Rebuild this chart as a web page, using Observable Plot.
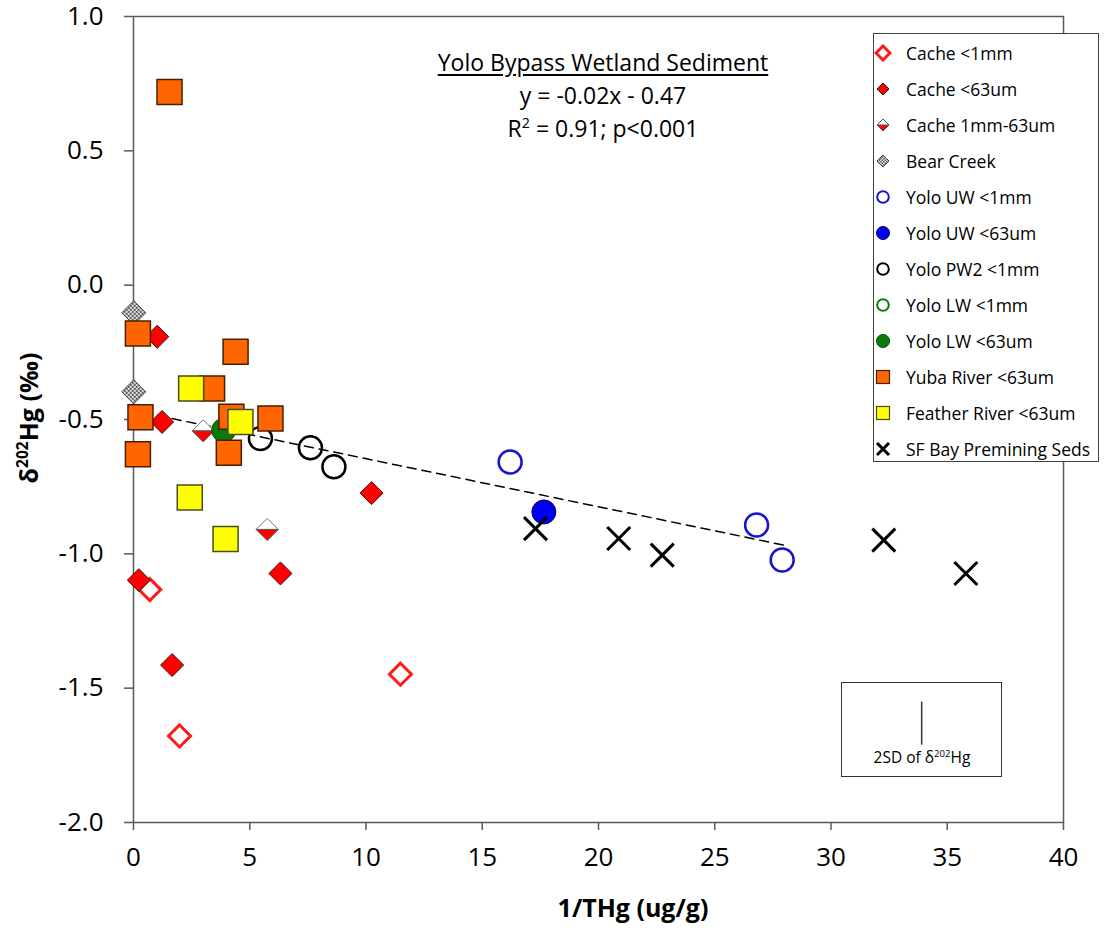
<!DOCTYPE html>
<html><head><meta charset="utf-8">
<script src="https://cdn.jsdelivr.net/npm/d3@7"></script>
<script src="https://cdn.jsdelivr.net/npm/@observablehq/plot@0.6"></script>
<style>
body{margin:0;background:#fff;font-family:"Open Sans",sans-serif;color:#000;}
#wrap{position:relative;width:1107px;height:934px;overflow:hidden;}
#wrap svg.main{position:absolute;left:0;top:0;}
.ov{position:absolute;white-space:nowrap;}
#title{left:403px;top:46px;width:400px;text-align:center;font-size:23px;line-height:33px;}
#title .t1{text-decoration:underline;text-underline-offset:3px;}
#xt{left:383px;top:889px;width:500px;text-align:center;font-size:25px;font-weight:bold;line-height:36px;}
#yt{left:28px;top:418px;transform:translate(-50%,-50%) rotate(-90deg);font-size:25px;font-weight:bold;}
sup{font-size:62%;line-height:0;vertical-align:0.65em;}
#sdbox{left:841px;top:682px;width:159px;height:93px;border:1.5px solid #333;}
#sdlab{left:841px;top:745px;width:162px;text-align:center;font-size:15.5px;line-height:24px;}
#legend{left:873px;top:33px;width:226px;height:429px;border:1.5px solid #404040;background:#fff;padding-top:1px;box-sizing:border-box;}
.row{display:flex;align-items:center;height:36px;font-size:17.5px;}
.row svg{width:18px;height:18px;flex:none;}
.row span{margin-left:14px;}
</style></head><body><div id="wrap"></div>
<script>
// ---------- data ----------
const cacheLt1mmX = [0.70, 1.98, 11.48];
const cacheLt1mmY = [-1.133, -1.678, -1.448];
const cache63X = [1.02, 1.23, 0.23, 1.66, 6.32, 10.24];
const cache63Y = [-0.192, -0.509, -1.098, -1.414, -1.073, -0.774];
const cacheMidX = [3.00, 5.75];
const cacheMidY = [-0.542, -0.909];
const bearX = [0.01, 0.01];
const bearY = [-0.103, -0.397];
const yoloUW1X = [16.2, 26.8, 27.9];
const yoloUW1Y = [-0.658, -0.893, -1.023];
const yoloUW63X = [17.65];
const yoloUW63Y = [-0.844];
const yoloPW2X = [5.46, 7.61, 8.62];
const yoloPW2Y = [-0.571, -0.605, -0.676];
const yoloLW63X = [3.88];
const yoloLW63Y = [-0.54];
const yubaX = [1.55, 0.19, 4.39, 3.38, 0.30, 0.19, 4.21, 4.10, 5.89];
const yubaY = [0.719, -0.18, -0.248, -0.385, -0.492, -0.629, -0.49, -0.624, -0.496];
const featherX = [2.48, 2.42, 3.96, 4.60];
const featherY = [-0.385, -0.79, -0.945, -0.509];
const sfBayX = [17.29, 20.87, 22.74, 32.27, 35.8];
const sfBayY = [-0.906, -0.943, -1.005, -0.949, -1.073];
const trendX = [0.4, 28.0];
const trendY = [-0.474, -0.968];
const sdBarX = [33.9];
const sdBarCenter = -1.632;
const sdHalf = 0.08;
const xTicks = [0, 5, 10, 15, 20, 25, 30, 35, 40];
const yTicks = [-2.0, -1.5, -1.0, -0.5, 0.0, 0.5, 1.0];
const legendLabels = ["Cache <1mm","Cache <63um","Cache 1mm-63um","Bear Creek","Yolo UW <1mm","Yolo UW <63um","Yolo PW2 <1mm","Yolo LW <1mm","Yolo LW <63um","Yuba River <63um","Feather River <63um","SF Bay Premining Seds"];

// ---------- helpers ----------
const pts = (xs, ys) => xs.map((x, i) => ({x, y: ys[i]}));
const rad = s => Math.sqrt(s / Math.PI);
const diamondSym = {draw(c, s){const r = rad(s); c.moveTo(0,-r); c.lineTo(r,0); c.lineTo(0,r); c.lineTo(-r,0); c.closePath();}};
const lowerHalfSym = {draw(c, s){const r = rad(s); c.moveTo(-r,0); c.lineTo(r,0); c.lineTo(0,r); c.closePath();}};
const squareSym = {draw(c, s){const r = rad(s); c.rect(-r,-r,2*r,2*r);}};
const crossSym = {draw(c, s){const r = rad(s); c.moveTo(-r,-r); c.lineTo(r,r); c.moveTo(r,-r); c.lineTo(-r,r);}};

const svg = Plot.plot({
  width: 1107, height: 934,
  marginLeft: 133, marginRight: 44, marginTop: 16, marginBottom: 112,
  style: {fontFamily: "'Open Sans', sans-serif", fontSize: "26px", background: "white", color: "black"},
  x: {domain: [0, 40]},
  y: {domain: [-2, 1]},
  marks: [
    Plot.frame({stroke: "#595959", strokeWidth: 1.5}),
    Plot.axisX({ticks: xTicks, tickSize: 8, tickPadding: 17, tickFormat: d => String(d), label: null, stroke: "#595959", strokeWidth: 1.5}),
    Plot.axisY({ticks: yTicks, tickSize: 9, tickPadding: 21, tickFormat: d => d.toFixed(1), label: null, stroke: "#595959", strokeWidth: 1.5}),
    Plot.line(pts(trendX, trendY), {x: "x", y: "y", stroke: "black", strokeWidth: 1.5, strokeDasharray: "9,6"}),
    Plot.dot(pts(cacheLt1mmX, cacheLt1mmY), {x: "x", y: "y", symbol: diamondSym, r: 11, fill: "white", stroke: "#ff1a1a", strokeWidth: 3}),
    Plot.dot(pts(cache63X, cache63Y), {x: "x", y: "y", symbol: diamondSym, r: 11.5, fill: "#ff0000", stroke: "#3a1010", strokeWidth: 1}),
    Plot.dot(pts(cacheMidX, cacheMidY), {x: "x", y: "y", symbol: diamondSym, r: 11, fill: "white", stroke: "#777", strokeWidth: 1}),
    Plot.dot(pts(cacheMidX, cacheMidY), {x: "x", y: "y", symbol: lowerHalfSym, r: 11, fill: "#ff0000", stroke: "#555", strokeWidth: 1}),
    Plot.dot(pts(bearX, bearY), {x: "x", y: "y", symbol: diamondSym, r: 12, fill: "url(#chk)", stroke: "#404040", strokeWidth: 1}),
    Plot.dot(pts(yoloUW1X, yoloUW1Y), {x: "x", y: "y", r: 11.5, fill: "none", stroke: "#1414d2", strokeWidth: 2.5}),
    Plot.dot(pts(yoloUW63X, yoloUW63Y), {x: "x", y: "y", r: 12, fill: "#0000ee", stroke: "#00006e", strokeWidth: 1}),
    Plot.dot(pts(yoloPW2X, yoloPW2Y), {x: "x", y: "y", r: 11.5, fill: "none", stroke: "black", strokeWidth: 2.5}),
    Plot.dot(pts(yoloLW63X, yoloLW63Y), {x: "x", y: "y", r: 12, fill: "#0b7a0b", stroke: "#054d05", strokeWidth: 1}),
    Plot.dot(pts(yubaX, yubaY), {x: "x", y: "y", symbol: squareSym, r: 12.5, fill: "#ff6600", stroke: "#4a1e00", strokeWidth: 1.5}),
    Plot.dot(pts(featherX, featherY), {x: "x", y: "y", symbol: squareSym, r: 12.5, fill: "#ffff00", stroke: "#4a4a20", strokeWidth: 1.5}),
    Plot.dot(pts(sfBayX, sfBayY), {x: "x", y: "y", symbol: crossSym, r: 11.5, fill: "none", stroke: "black", strokeWidth: 3}),
    Plot.ruleX(sdBarX, {x: d => d, y1: sdBarCenter - sdHalf, y2: sdBarCenter + sdHalf, stroke: "#333", strokeWidth: 1.5})
  ]
});
svg.classList.add("main");
const defs = d3.select(svg).insert("defs", ":first-child");
const pat = defs.append("pattern").attr("id", "chk").attr("width", 4).attr("height", 4).attr("patternUnits", "userSpaceOnUse");
pat.append("rect").attr("width", 4).attr("height", 4).attr("fill", "#e6e6e6");
pat.append("rect").attr("width", 2).attr("height", 2).attr("fill", "#5a5a5a");
pat.append("rect").attr("x", 2).attr("y", 2).attr("width", 2).attr("height", 2).attr("fill", "#5a5a5a");

const wrap = document.getElementById("wrap");
wrap.appendChild(svg);

// ---------- legend ----------
const legendSyms = [
  '<path d="M9,2L16,9L9,16L2,9Z" fill="white" stroke="#ff1a1a" stroke-width="3"/>',
  '<path d="M9,3L15,9L9,15L3,9Z" fill="#ff0000" stroke="#3a1010" stroke-width="1"/>',
  '<path d="M9,3L15,9L9,15L3,9Z" fill="white" stroke="#555" stroke-width="1"/><path d="M3,9L15,9L9,15Z" fill="#ff0000" stroke="#555" stroke-width="1"/>',
  '<defs><pattern id="chk2" width="3" height="3" patternUnits="userSpaceOnUse"><rect width="3" height="3" fill="#e6e6e6"/><rect width="1.5" height="1.5" fill="#5a5a5a"/><rect x="1.5" y="1.5" width="1.5" height="1.5" fill="#5a5a5a"/></pattern></defs><path d="M9,3L15,9L9,15L3,9Z" fill="url(#chk2)" stroke="#404040" stroke-width="1"/>',
  '<circle cx="9" cy="9" r="5.8" fill="none" stroke="#1414d2" stroke-width="2"/>',
  '<circle cx="9" cy="9" r="6.5" fill="#0000ee" stroke="#00006e" stroke-width="1"/>',
  '<circle cx="9" cy="9" r="5.8" fill="none" stroke="black" stroke-width="2"/>',
  '<circle cx="9" cy="9" r="5.8" fill="none" stroke="#0b7a0b" stroke-width="2"/>',
  '<circle cx="9" cy="9" r="6.5" fill="#0b7a0b" stroke="#054d05" stroke-width="1"/>',
  '<rect x="2.5" y="2.5" width="13" height="13" fill="#ff6600" stroke="#4a1e00" stroke-width="1.2"/>',
  '<rect x="2.5" y="2.5" width="13" height="13" fill="#ffff00" stroke="#4a4a20" stroke-width="1.2"/>',
  '<path d="M3,3L15,15M15,3L3,15" stroke="black" stroke-width="3"/>'
];
const legend = document.createElement("div");
legend.className = "ov"; legend.id = "legend";
legend.innerHTML = legendLabels.map((lab, i) =>
  `<div class="row"><svg viewBox="0 0 18 18">${legendSyms[i]}</svg><span></span></div>`).join("");
legend.querySelectorAll(".row span").forEach((s, i) => s.textContent = legendLabels[i]);
wrap.appendChild(legend);

// ---------- text overlays ----------
function addDiv(id, html){const d = document.createElement("div"); d.className = "ov"; d.id = id; d.innerHTML = html; wrap.appendChild(d);}
addDiv("title", '<div class="t1">Yolo Bypass Wetland Sediment</div><div>y = -0.02x - 0.47</div><div>R<sup>2</sup> = 0.91; p&lt;0.001</div>');
addDiv("xt", "1/THg (ug/g)");
addDiv("yt", "δ<sup>202</sup>Hg (‰)");
addDiv("sdbox", "");
addDiv("sdlab", "2SD of δ<sup>202</sup>Hg");
</script></body></html>
